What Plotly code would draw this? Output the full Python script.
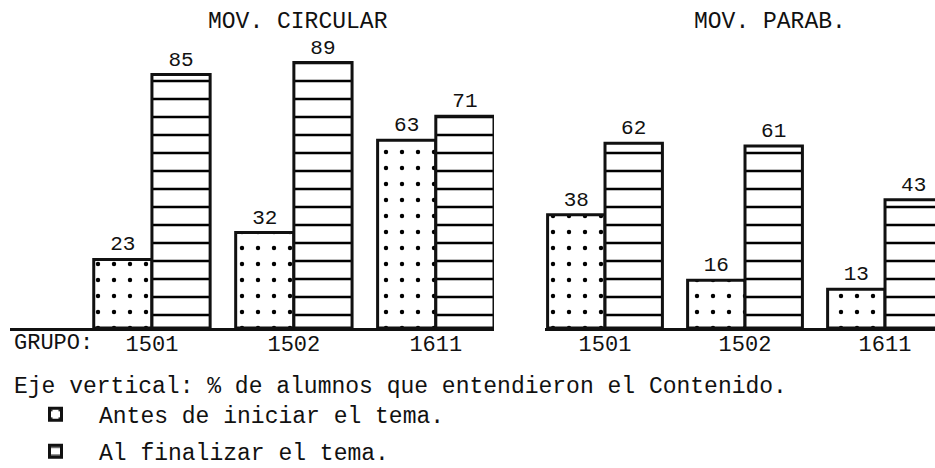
import plotly.graph_objects as go
from plotly.subplots import make_subplots

# data (% of students who understood the content)
grupos = ["1501", "1502", "1611"]
circular_antes = [23, 32, 63]
circular_final = [85, 89, 71]
parab_antes = [38, 16, 13]
parab_final = [62, 61, 43]

panel_titles = ["MOV. CIRCULAR", "MOV. PARAB."]
legend_title = "Eje vertical: % de alumnos que entendieron el Contenido."
serie_antes = "Antes de iniciar el tema."
serie_final = "Al finalizar el tema."

FONT = "Liberation Mono"
INK = "#111111"

fig = make_subplots(rows=1, cols=2)

dots = dict(shape=".", size=16, solidity=0.06, fgcolor="black", fgopacity=1, bgcolor="white")
lines = dict(shape="-", size=18, solidity=0.14, fgcolor="black", fgopacity=1, bgcolor="white")


def add_pair(antes, final, col, show):
    fig.add_trace(go.Bar(
        x=grupos, y=antes, name=serie_antes, legendgroup="a", showlegend=show,
        marker=dict(color="white", pattern=dots, line=dict(color=INK, width=3)),
        text=antes, textposition="outside", cliponaxis=False,
        textfont=dict(family=FONT, size=21, color=INK),
    ), row=1, col=col)
    fig.add_trace(go.Bar(
        x=grupos, y=final, name=serie_final, legendgroup="f", showlegend=show,
        marker=dict(color="white", pattern=lines, line=dict(color=INK, width=3)),
        text=final, textposition="outside", cliponaxis=False,
        textfont=dict(family=FONT, size=21, color=INK),
    ), row=1, col=col)


add_pair(circular_antes, circular_final, 1, True)
add_pair(parab_antes, parab_final, 2, False)

axis_common = dict(
    type="category", showgrid=False, zeroline=False, showline=True,
    linecolor=INK, linewidth=3, ticks="", fixedrange=True, automargin=False,
    ticklabelstandoff=-6,
    tickfont=dict(family=FONT, size=22, color=INK),
)
fig.update_xaxes(**axis_common)
fig.update_xaxes(domain=[10 / 935, 494 / 935], range=[-1.0, 2.41], row=1, col=1)
fig.update_xaxes(domain=[545 / 935, 1.0], range=[-0.4286, 2.357], row=1, col=2)
fig.update_yaxes(visible=False, range=[0, 110], domain=[140 / 468, 1.0], automargin=False)

for title, xc in zip(panel_titles, [298, 770]):
    fig.add_annotation(text=title, x=xc / 935, y=1 - 22 / 468, xref="paper", yref="paper",
                       xanchor="center", yanchor="middle", showarrow=False,
                       font=dict(family=FONT, size=23, color=INK))

fig.add_annotation(text="GRUPO:", x=12 / 935, y=1 - 343 / 468, xref="paper", yref="paper",
                   xanchor="left", yanchor="middle", showarrow=False,
                   font=dict(family=FONT, size=22, color=INK))

fig.update_layout(
    width=935, height=468,
    margin=dict(l=0, r=0, t=0, b=0, pad=0, autoexpand=False),
    paper_bgcolor="white", plot_bgcolor="white",
    barmode="group", bargap=0.18, bargroupgap=0,
    legend=dict(
        x=12 / 935, y=1 - 363 / 468, xanchor="left", yanchor="top",
        title=dict(text=legend_title, font=dict(family=FONT, size=23, color=INK)),
        font=dict(family=FONT, size=23, color=INK),
        itemwidth=77, traceorder="grouped", tracegroupgap=4,
        bgcolor="rgba(0,0,0,0)",
    ),
)

# the page gets the browser's default 8px body margin otherwise
fig.write_html("out.html", config={"displayModeBar": False},
               post_script="document.body.style.margin = '0';")
